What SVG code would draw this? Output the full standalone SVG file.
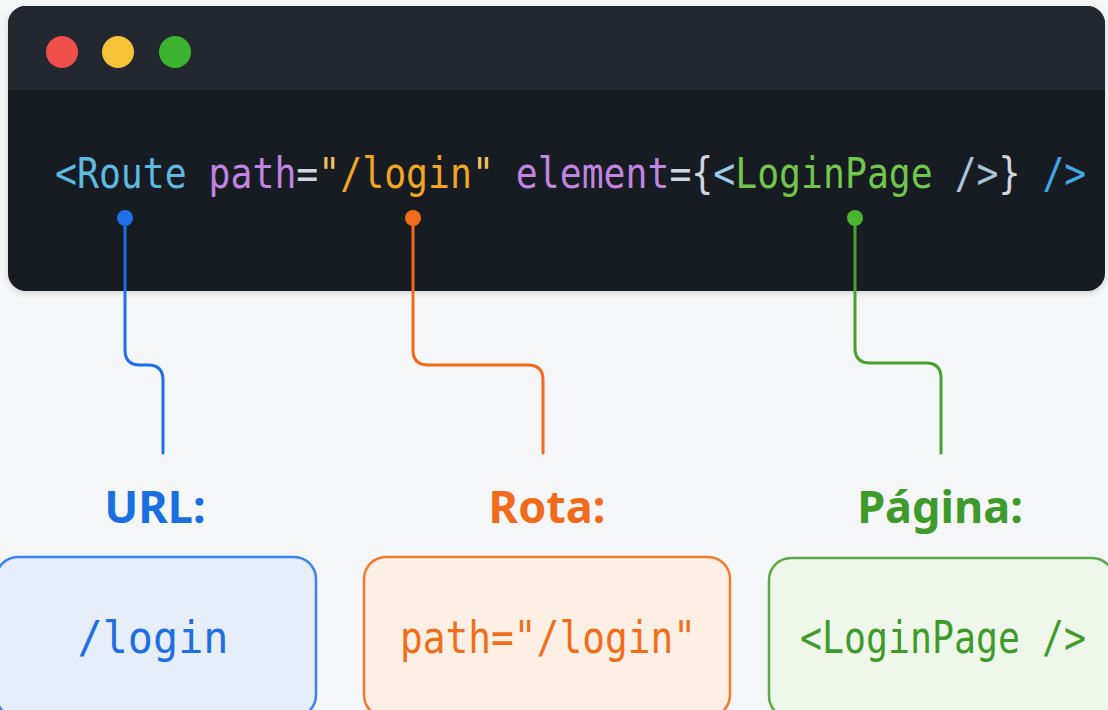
<svg xmlns="http://www.w3.org/2000/svg" width="1108" height="710" viewBox="0 0 1108 710">
  <style>
    .code { font-family: "DejaVu Sans Mono", "Liberation Mono", monospace; font-size: 42px; }
    .label { font-family: "Noto Sans", "Open Sans", sans-serif; font-weight: 700; font-size: 45px; text-anchor: middle; }
    .val { font-family: "DejaVu Sans Mono", "Liberation Mono", monospace; font-size: 44px; text-anchor: middle; }
    .wire { fill: none; stroke-width: 3; stroke-linecap: round; }
  </style>
  <defs>
    <clipPath id="winClip">
      <rect x="8" y="6" width="1097" height="285" rx="18"/>
    </clipPath>
    <filter id="shadow" x="-5%" y="-10%" width="110%" height="130%">
      <feDropShadow dx="0" dy="2" stdDeviation="3" flood-color="#000" flood-opacity="0.15"/>
    </filter>
  </defs>

  <rect width="1108" height="710" fill="#f4f6f8"/>

  <!-- editor window -->
  <g id="editor">
    <rect x="8" y="6" width="1097" height="285" rx="18" fill="#181d24" filter="url(#shadow)"/>
    <g clip-path="url(#winClip)">
      <rect x="8" y="6" width="1097" height="84" fill="#232830"/>
    </g>
    <circle cx="62" cy="52" r="16" fill="#f0504a"/>
    <circle cx="118" cy="52" r="16" fill="#f6c338"/>
    <circle cx="175" cy="52" r="16" fill="#3cb32e"/>
    <text class="code" transform="translate(55,188) scale(0.868,1)" x="0" y="0"><tspan fill="#5fb8e0">&lt;Route</tspan><tspan fill="#cfd6de"> </tspan><tspan fill="#c184e0">path</tspan><tspan fill="#cfd6de">=</tspan><tspan fill="#f2c060">"</tspan><tspan fill="#f0a526">/login</tspan><tspan fill="#f2c060">"</tspan><tspan fill="#cfd6de"> </tspan><tspan fill="#c184e0">element</tspan><tspan fill="#cfd6de">={</tspan><tspan fill="#9ccbea">&lt;</tspan><tspan fill="#72c64c">LoginPage</tspan><tspan fill="#a9c4dc"> /&gt;</tspan><tspan fill="#cfd6de">}</tspan><tspan fill="#3fa9e6"> /&gt;</tspan></text>
  </g>

  <!-- connectors -->
  <g id="connectors">
    <path class="wire" stroke="#1f6fe8" d="M125,218 V350 Q125,365 140,365 H148 Q163,365 163,380 V453"/>
    <circle cx="125" cy="218" r="8" fill="#1f6fe8"/>
    <path class="wire" stroke="#f26b1d" d="M413,218 V350 Q413,365 428,365 H528 Q543,365 543,380 V453"/>
    <circle cx="413" cy="218" r="8" fill="#f26b1d"/>
    <path class="wire" stroke="#45a22c" d="M855,218 V348 Q855,363 870,363 H926 Q941,363 941,378 V453"/>
    <circle cx="855" cy="218" r="8" fill="#4cb52f"/>
  </g>

  <!-- URL -->
  <g id="url">
    <text class="label" x="155" y="523" fill="#1a6fe0">URL:</text>
    <rect x="-4" y="557" width="320" height="160" rx="22" fill="#e6eefa" stroke="#3a83ef" stroke-width="2.5"/>
    <text class="val" transform="translate(153,653) scale(0.95,1)" fill="#1f6fe0">/login</text>
  </g>

  <!-- Rota -->
  <g id="rota">
    <text class="label" x="547" y="523" fill="#f26b1d">Rota:</text>
    <rect x="364" y="557" width="366" height="160" rx="22" fill="#fdefe3" stroke="#f07a30" stroke-width="2.5"/>
    <text class="val" transform="translate(548,653) scale(0.86,1)" fill="#ef6e1c">path="/login"</text>
  </g>

  <!-- Página -->
  <g id="pagina">
    <text class="label" x="940" y="523" fill="#3e9a2b">Página:</text>
    <rect x="769" y="558" width="345" height="160" rx="22" fill="#eef7e9" stroke="#5aa846" stroke-width="2.5"/>
    <text class="val" transform="translate(943,653) scale(0.83,1)" fill="#3e9a2b">&lt;LoginPage /&gt;</text>
  </g>
</svg>
